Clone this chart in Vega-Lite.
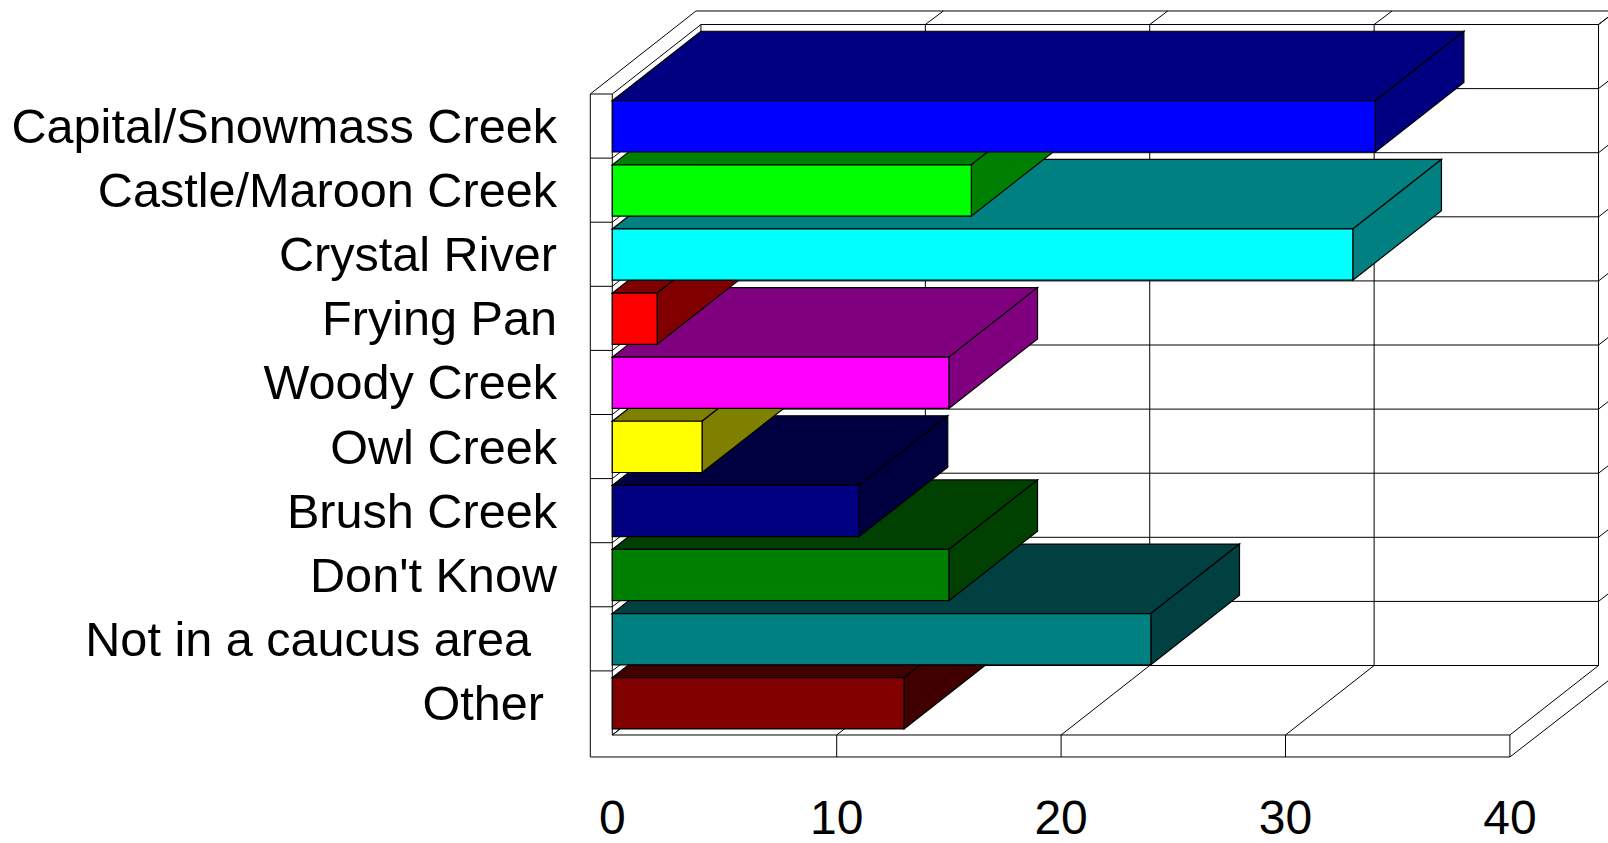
{
  "$schema": "https://vega.github.io/schema/vega-lite/v6.json",
  "width": 1608,
  "height": 843,
  "padding": 0,
  "autosize": "none",
  "background": "white",
  "config": {"view": {"stroke": null}, "font": "Liberation Sans"},
  "datasets": {
    "caucus": [
      {"caucus": "Other\u00a0", "mentions": 13},
      {"caucus": "Not in a caucus area\u00a0\u00a0", "mentions": 24},
      {"caucus": "Don't Know", "mentions": 15},
      {"caucus": "Brush Creek", "mentions": 11},
      {"caucus": "Owl Creek", "mentions": 4},
      {"caucus": "Woody Creek", "mentions": 15},
      {"caucus": "Frying Pan", "mentions": 2},
      {"caucus": "Crystal River", "mentions": 33},
      {"caucus": "Castle/Maroon Creek", "mentions": 16},
      {"caucus": "Capital/Snowmass Creek", "mentions": 34}
    ],
    "valueTicks": [{"v": 0}, {"v": 10}, {"v": 20}, {"v": 30}, {"v": 40}],
    "rowEdges": [{"r": 0}, {"r": 1}, {"r": 2}, {"r": 3}, {"r": 4}, {"r": 5}, {"r": 6}, {"r": 7}, {"r": 8}, {"r": 9}, {"r": 10}]
  },
  "layer": [
    {
      "encoding": {
        "x": {"field": "x0", "type": "quantitative", "scale": {"domain": [-27.286, 44.372], "nice": false, "zero": false}, "axis": null},
        "y": {"field": "r0", "type": "quantitative", "scale": {"domain": [-1.4665, 11.685], "nice": false, "zero": false, "reverse": true}, "axis": null},
        "x2": {"field": "x1"},
        "y2": {"field": "r1"}
      },
      "layer": [
        {
          "data": {"name": "valueTicks"},
          "transform": [
            {"calculate": "datum.v+3.95", "as": "x0"},
            {"calculate": "-1.084", "as": "r0"},
            {"calculate": "datum.v+3.95", "as": "x1"},
            {"calculate": "8.916", "as": "r1"}
          ],
          "mark": {"type": "rule", "color": "#000000", "strokeWidth": 1, "clip": true}
        },
        {
          "data": {"name": "valueTicks"},
          "transform": [
            {"calculate": "datum.v", "as": "x0"},
            {"calculate": "10", "as": "r0"},
            {"calculate": "datum.v+3.95", "as": "x1"},
            {"calculate": "8.916", "as": "r1"}
          ],
          "mark": {"type": "rule", "color": "#000000", "strokeWidth": 1, "clip": true}
        },
        {
          "data": {"name": "valueTicks"},
          "transform": [
            {"filter": "datum.v>0"},
            {"calculate": "datum.v", "as": "x0"},
            {"calculate": "10", "as": "r0"},
            {"calculate": "datum.v", "as": "x1"},
            {"calculate": "10.343", "as": "r1"}
          ],
          "mark": {"type": "rule", "color": "#000000", "strokeWidth": 1, "clip": true}
        },
        {
          "data": {"name": "valueTicks"},
          "transform": [
            {"filter": "datum.v>0"},
            {"calculate": "datum.v+3.95", "as": "x0"},
            {"calculate": "-1.084", "as": "r0"},
            {"calculate": "datum.v+4.752", "as": "x1"},
            {"calculate": "-1.295", "as": "r1"}
          ],
          "mark": {"type": "rule", "color": "#000000", "strokeWidth": 1, "clip": true}
        },
        {
          "data": {"name": "rowEdges"},
          "transform": [
            {"calculate": "3.95", "as": "x0"},
            {"calculate": "datum.r-1.084", "as": "r0"},
            {"calculate": "43.95", "as": "x1"},
            {"calculate": "datum.r-1.084", "as": "r1"}
          ],
          "mark": {"type": "rule", "color": "#000000", "strokeWidth": 1, "clip": true}
        },
        {
          "data": {"name": "rowEdges"},
          "transform": [
            {"calculate": "0", "as": "x0"},
            {"calculate": "datum.r", "as": "r0"},
            {"calculate": "3.95", "as": "x1"},
            {"calculate": "datum.r-1.084", "as": "r1"}
          ],
          "mark": {"type": "rule", "color": "#000000", "strokeWidth": 1, "clip": true}
        },
        {
          "data": {"name": "rowEdges"},
          "transform": [
            {"filter": "datum.r<10"},
            {"calculate": "-0.98", "as": "x0"},
            {"calculate": "datum.r", "as": "r0"},
            {"calculate": "0", "as": "x1"},
            {"calculate": "datum.r", "as": "r1"}
          ],
          "mark": {"type": "rule", "color": "#000000", "strokeWidth": 1, "clip": true}
        },
        {
          "data": {"name": "rowEdges"},
          "transform": [
            {"filter": "datum.r<10"},
            {"calculate": "43.95", "as": "x0"},
            {"calculate": "datum.r-1.084", "as": "r0"},
            {"calculate": "44.752", "as": "x1"},
            {"calculate": "datum.r-1.302", "as": "r1"}
          ],
          "mark": {"type": "rule", "color": "#000000", "strokeWidth": 1, "clip": true}
        },
        {
          "data": {"name": "valueTicks"},
          "transform": [
            {"filter": "datum.v==0"},
            {"calculate": "[[-0.98,0,-0.98,10.343],[0,0,0,10],[0,10,40,10],[-0.98,10.343,40,10.343],[-0.98,0,3.73,-1.295],[3.73,-1.295,46,-1.295],[40,10.343,44.77,9.048]]", "as": "seg"},
            {"flatten": ["seg"]},
            {"calculate": "datum.seg[0]", "as": "x0"},
            {"calculate": "datum.seg[1]", "as": "r0"},
            {"calculate": "datum.seg[2]", "as": "x1"},
            {"calculate": "datum.seg[3]", "as": "r1"}
          ],
          "mark": {"type": "rule", "color": "#000000", "strokeWidth": 1, "clip": true}
        }
      ]
    },
    {
      "data": {"name": "caucus"},
      "transform": [
        {"window": [{"op": "row_number", "as": "n"}]},
        {"calculate": "10-datum.n", "as": "row"},
        {"calculate": "['top','side','front']", "as": "face"},
        {"flatten": ["face"]},
        {"calculate": "[0,1,2,3]", "as": "vertex"},
        {"flatten": ["vertex"]},
        {"calculate": "datum.row+0.105", "as": "t"},
        {"calculate": "datum.row+0.905", "as": "b"},
        {"calculate": "datum.face=='top' ? [0,datum.mentions,datum.mentions+3.95,3.95][datum.vertex] : datum.face=='side' ? [datum.mentions,datum.mentions+3.95,datum.mentions+3.95,datum.mentions][datum.vertex] : [0,datum.mentions,datum.mentions,0][datum.vertex]", "as": "x0"},
        {"calculate": "datum.face=='top' ? [datum.t,datum.t,datum.t-1.084,datum.t-1.084][datum.vertex] : datum.face=='side' ? [datum.t,datum.t-1.084,datum.b-1.084,datum.b][datum.vertex] : [datum.t,datum.t,datum.b,datum.b][datum.vertex]", "as": "r0"},
        {"calculate": "datum.n+'-'+datum.face", "as": "faceKey"}
      ],
      "mark": {"type": "line", "interpolate": "linear-closed", "stroke": "#000000", "strokeWidth": 1.2, "clip": true},
      "encoding": {
        "x": {"field": "x0", "type": "quantitative", "axis": null},
        "y": {"field": "r0", "type": "quantitative", "axis": null},
        "order": {"field": "vertex", "type": "quantitative"},
        "detail": {"field": "faceKey", "type": "nominal"},
        "fill": {
          "field": "faceKey",
          "type": "nominal",
          "legend": null,
          "scale": {
            "domain": ["1-top","1-side","1-front","2-top","2-side","2-front","3-top","3-side","3-front","4-top","4-side","4-front","5-top","5-side","5-front","6-top","6-side","6-front","7-top","7-side","7-front","8-top","8-side","8-front","9-top","9-side","9-front","10-top","10-side","10-front"],
            "range": ["#400000","#400000","#800000","#004040","#004040","#008080","#004000","#004000","#008000","#000040","#000040","#000080","#808000","#808000","#ffff00","#800080","#800080","#ff00ff","#800000","#800000","#ff0000","#008080","#008080","#00ffff","#008000","#008000","#00ff00","#000080","#000080","#0000ff"]
          }
        }
      }
    },
    {
      "data": {"name": "valueTicks"},
      "mark": {"type": "text", "fontSize": 48, "baseline": "alphabetic", "align": "center", "color": "#000000"},
      "encoding": {
        "x": {"field": "v", "type": "quantitative", "axis": null},
        "y": {"datum": 11.55, "type": "quantitative", "axis": null},
        "text": {"field": "v", "type": "quantitative"}
      }
    },
    {
      "data": {"name": "caucus"},
      "transform": [
        {"window": [{"op": "row_number", "as": "n"}]},
        {"calculate": "10.5-datum.n", "as": "labelRow"},
        {"calculate": "-2.464-0.58*(length(datum.caucus)-length(trim(datum.caucus)))", "as": "labelX"}
      ],
      "mark": {"type": "text", "align": "right", "baseline": "middle", "fontSize": 48.6, "dy": 2, "color": "#000000"},
      "encoding": {
        "x": {"field": "labelX", "type": "quantitative", "axis": null},
        "y": {"field": "labelRow", "type": "quantitative", "axis": null},
        "text": {"field": "caucus", "type": "nominal"}
      }
    }
  ]
}
